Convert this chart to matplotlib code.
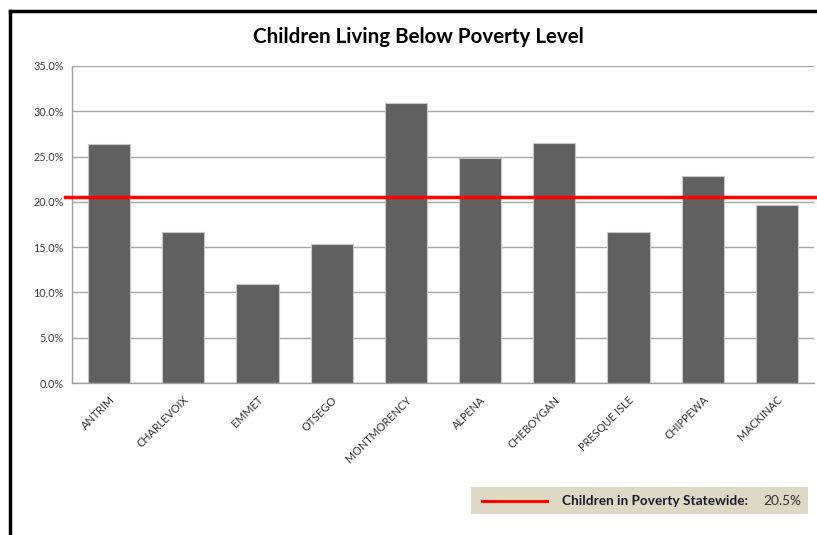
import matplotlib.pyplot as plt
from matplotlib.lines import Line2D
from matplotlib.patches import Rectangle
import matplotlib.transforms as mtransforms

counties = ["ANTRIM", "CHARLEVOIX", "EMMET", "OTSEGO", "MONTMORENCY",
            "ALPENA", "CHEBOYGAN", "PRESQUE ISLE", "CHIPPEWA", "MACKINAC"]
poverty = [26.4, 16.7, 10.9, 15.4, 30.9, 24.8, 26.5, 16.7, 22.9, 19.6]
statewide = 20.5
yticks = [0, 5, 10, 15, 20, 25, 30, 35]

plt.rcParams['font.family'] = ['Lato', 'DejaVu Sans']

W, H = 817, 535
fig = plt.figure(figsize=(W / 100, H / 100), dpi=100)

# plot area in pixels
left, right, top, bottom = 72, 814, 66, 383
ax = fig.add_axes([left / W, (H - bottom) / H, (right - left) / W, (bottom - top) / H])

x = range(len(counties))
ax.bar(x, poverty, width=0.57, color='#606060', edgecolor='#c8c8c8', linewidth=0.8, zorder=2)
ax.set_xlim(-0.5, len(counties) - 0.5)
ax.set_ylim(0, 35)
ax.set_yticks(yticks)
ax.set_yticklabels(['%.1f%%' % v for v in yticks], fontsize=7.8, color='#404040')
ax.set_xticks(list(x))
ax.set_xticklabels(counties, rotation=45, ha='right', rotation_mode='anchor',
                   fontsize=7.8, color='#303030')
ax.tick_params(axis='both', length=0, pad=6)
ax.tick_params(axis='x', pad=8)
ax.grid(axis='y', color='#a6a6a6', linewidth=1, zorder=0)
ax.set_axisbelow(True)
for s in ['top', 'right']:
    ax.spines[s].set_visible(False)
for s in ['left', 'bottom']:
    ax.spines[s].set_color('#a0a0a0')
    ax.spines[s].set_linewidth(1)

# statewide reference line
trans = mtransforms.blended_transform_factory(ax.transAxes, ax.transData)
ax.plot([-0.01, 1.01], [statewide, statewide], color='#ff0000', linewidth=2.5,
        transform=trans, clip_on=False, zorder=3)

fig.text(418 / W, 1 - 37 / H, "Children Living Below Poverty Level",
         ha='center', va='center', fontsize=14.8, fontweight='bold', color='black')

# black frame at top and left
fig.add_artist(Line2D([9.5 / W, 1], [1 - 11 / H, 1 - 11 / H], color='black', linewidth=2.5))
fig.add_artist(Line2D([9.5 / W, 9.5 / W], [0, 1 - 11 / H], color='black', linewidth=2.5))

# legend box
fig.add_artist(Rectangle((471 / W, 1 - 514 / H), (808 - 471) / W, (514 - 487) / H,
                         facecolor='#ddd9c4', edgecolor='none'))
ly = 1 - 501 / H
fig.add_artist(Line2D([482 / W, 547 / W], [ly, ly], color='#ff0000', linewidth=2.2))
fig.text(562 / W, ly, "Children in Poverty Statewide:", ha='left', va='center',
         fontsize=9.8, fontweight='bold', color='#1a1a2e')
fig.text(763 / W, ly, "%.1f%%" % statewide, ha='left', va='center',
         fontsize=9.8, color='#303030')

fig.savefig('out.png', dpi=100)
